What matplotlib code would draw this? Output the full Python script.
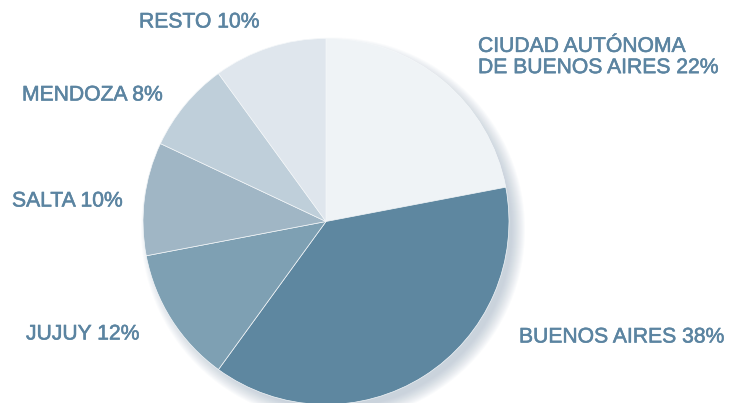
import matplotlib
matplotlib.use("Agg")
import matplotlib.pyplot as plt
import matplotlib.patheffects as pe
from matplotlib.patches import Circle

# Data (clockwise from the top)
regions = ["CIUDAD AUTÓNOMA\nDE BUENOS AIRES", "BUENOS AIRES", "JUJUY", "SALTA", "MENDOZA", "RESTO"]
shares = [22, 38, 12, 10, 8, 10]
colors = ["#eff3f6", "#5e87a0", "#7ea0b3", "#a0b6c5", "#bfcfda", "#dfe6ed"]

# label anchor points (left edge, vertical center) in pixel coords from the top
label_x = [478, 519, 26, 12, 22, 139]
label_y = [57, 337, 334, 201, 95, 22]

text_color = "#5b84a1"
W, H = 730, 403

fig = plt.figure(figsize=(W / 100, H / 100), dpi=100)
ax = fig.add_axes([0, 0, 1, 1])

cx, cy, r = 326, H - 221.5, 183

# soft shadow to the lower right
for i in range(14):
    ax.add_patch(Circle((cx + 7, cy - 8), r + 9 - i, color="#8fa5b8",
                        alpha=0.04, lw=0, zorder=0))

ax.pie(shares, colors=colors, startangle=90, counterclock=False,
       center=(cx, cy), radius=r, frame=True,
       wedgeprops={"linewidth": 0.5, "edgecolor": "#f4f7f9"})
ax.set_xlim(0, W)
ax.set_ylim(0, H)
ax.axis("off")

for name, val, x, y in zip(regions, shares, label_x, label_y):
    ax.text(x, H - y, f"{name} {val}%", ha="left", va="center",
            fontsize=15.2, color=text_color, family="Liberation Sans",
            linespacing=1.15,
            path_effects=[pe.withStroke(linewidth=0.4, foreground=text_color)])

fig.savefig("out.png", dpi=100)
